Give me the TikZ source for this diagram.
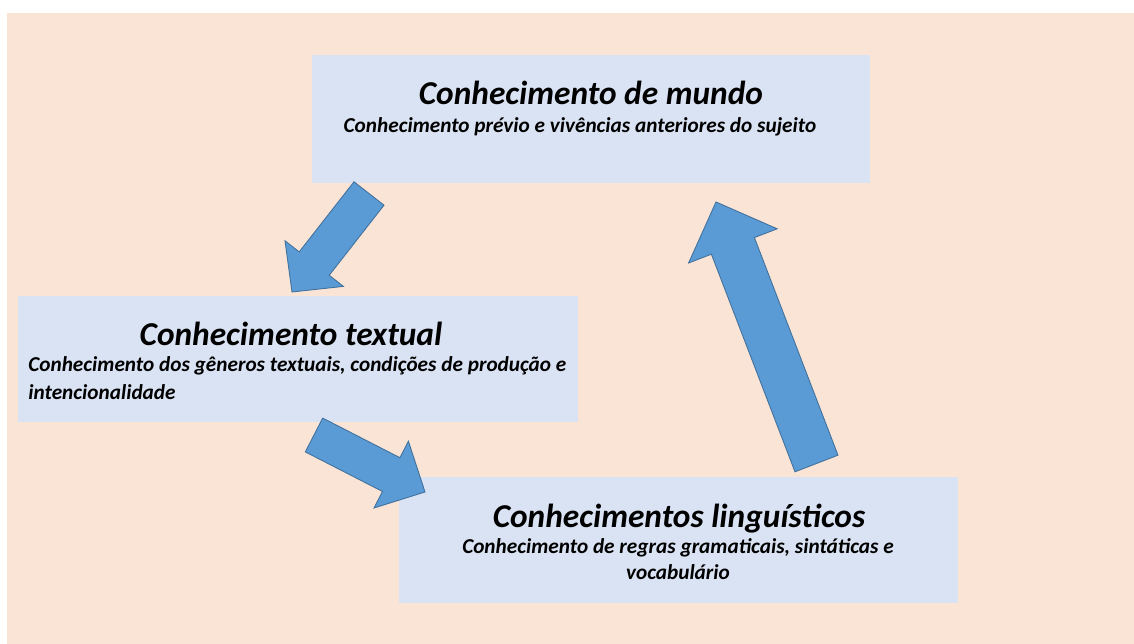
\documentclass[tikz,border=0pt]{standalone}
\usepackage{fontspec}
\setmainfont{Carlito}
\usepackage{tikz}
\usetikzlibrary{calc}
\definecolor{peach}{HTML}{FAE4D6}
\definecolor{boxblue}{HTML}{DAE3F3}
\definecolor{arrowblue}{HTML}{5B9BD5}
\definecolor{arrowline}{HTML}{41719C}
\tikzset{
  caixa/.style={fill=boxblue, draw=none, rectangle, inner sep=0pt, anchor=north west},
  seta/.style={fill=arrowblue, draw=arrowline, line width=0.5pt, line join=miter},
  titulo/.style={font=\fontsize{19}{22}\selectfont\bfseries\itshape, inner sep=0pt, anchor=base},
  sub/.style={font=\fontsize{12.1}{15.5}\selectfont\bfseries\itshape, inner sep=0pt, anchor=base}
}
\begin{document}
\begin{tikzpicture}
                [x=0.02cm,y=-0.02cm]
                
                \useasboundingbox (0,0) rectangle (1134,644);
                \fill[white] (0,0) rectangle (1134,644);
                \fill[peach] (7,13) rectangle (1134,644);
                
                % caixas
                \node[caixa, minimum width=558*0.02cm, minimum height=128*0.02cm] (mundo) at (312,55) {};
                \node[caixa, minimum width=560*0.02cm, minimum height=126*0.02cm] (textual) at (18,296) {};
                \node[caixa, minimum width=559*0.02cm, minimum height=126*0.02cm] (linguistico) at (399,477) {};
                
                \node[titulo] (mundoT) at (591,105) {Conhecimento de mundo};
                \node[sub] (mundoS) at (580,133) {Conhecimento prévio e vivências anteriores do sujeito};
                
                \node[titulo] (textualT) at (291,346) {Conhecimento textual};
                \node[sub, anchor=base west] (textualS) at (28,372) {Conhecimento dos gêneros textuais, condições de produção e};
                \node[sub, anchor=base west] (textualS2) at (28,400) {intencionalidade};
                
                \node[titulo] (linguisticoT) at (679,528) {Conhecimentos linguísticos};
                \node[sub] (linguisticoS) at (678,554) {Conhecimento de regras gramaticais, sintáticas e};
                \node[sub] (linguisticoS2) at (678,580) {vocabulário};
                
                % setas
                \draw[seta] (384,205.2) -- (329.2,275.3) -- (343.4,286.4) -- (292,292)
                    -- (285,240.8) -- (299.2,251.9) -- (354,181.8) -- cycle; % mundo -> textual
                \draw[seta] (322.7,418.1) -- (399.9,457.7) -- (408.4,441.2) -- (425,492)
                    -- (374,508) -- (382.5,491.5) -- (305.3,451.9) -- cycle; % textual -> linguistico
                \draw[seta] (838,455.2) -- (754.4,237.6) -- (777.2,228.8) -- (716,202)
                    -- (688.6,263) -- (711.4,254.2) -- (795,471.8) -- cycle; % linguistico -> mundo
\end{tikzpicture}
\end{document}
